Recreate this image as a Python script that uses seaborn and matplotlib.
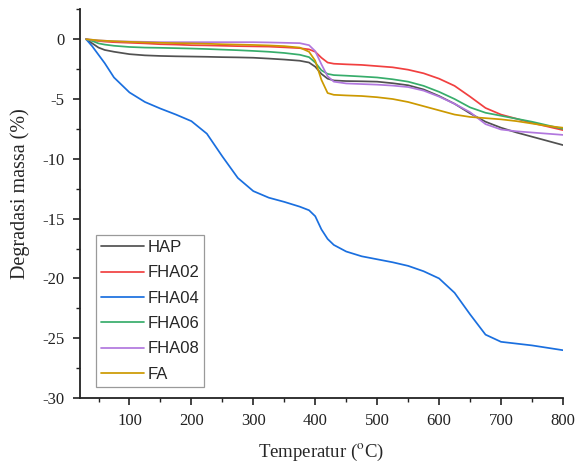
import matplotlib
matplotlib.use("Agg")
import matplotlib.pyplot as plt
import seaborn as sns
import pandas as pd
from matplotlib.ticker import MultipleLocator

# Temperature grid (°C) shared by all TGA curves
temperature = [30, 40, 50, 60, 75, 100, 125, 150, 175, 200, 225, 250, 275, 300,
               325, 350, 375, 390, 400, 410, 420, 430, 450, 475, 500, 525, 550,
               575, 600, 625, 650, 675, 700, 725, 750, 775, 800]

# Mass loss (%) of each sample
hap = [0, -0.35, -0.7, -0.9, -1.05, -1.25, -1.35, -1.4, -1.43, -1.45, -1.47, -1.5,
       -1.52, -1.55, -1.62, -1.7, -1.8, -1.95, -2.3, -2.9, -3.3, -3.45, -3.5, -3.52,
       -3.55, -3.68, -3.85, -4.2, -4.75, -5.4, -6.2, -6.9, -7.4, -7.8, -8.15, -8.5, -8.85]
fha02 = [0, -0.1, -0.15, -0.2, -0.25, -0.3, -0.35, -0.42, -0.45, -0.5, -0.52, -0.55,
         -0.58, -0.6, -0.62, -0.68, -0.75, -0.85, -1.05, -1.55, -1.95, -2.05, -2.1, -2.15,
         -2.25, -2.35, -2.55, -2.85, -3.3, -3.9, -4.8, -5.75, -6.3, -6.65, -7.0, -7.3, -7.6]
fha04 = [0, -0.6, -1.3, -2.0, -3.2, -4.45, -5.25, -5.8, -6.3, -6.85, -7.9, -9.8,
         -11.6, -12.7, -13.25, -13.6, -14.0, -14.3, -14.8, -15.9, -16.7, -17.2, -17.75,
         -18.15, -18.4, -18.65, -18.95, -19.4, -20.0, -21.2, -23.0, -24.7, -25.3, -25.45,
         -25.6, -25.8, -26.0]
fha06 = [0, -0.15, -0.35, -0.45, -0.55, -0.65, -0.7, -0.72, -0.75, -0.78, -0.82, -0.87,
         -0.92, -0.98, -1.05, -1.15, -1.3, -1.5, -1.95, -2.6, -2.9, -3.0, -3.05, -3.12,
         -3.2, -3.35, -3.55, -3.9, -4.4, -5.0, -5.7, -6.15, -6.4, -6.65, -6.9, -7.2, -7.5]
fha08 = [0, -0.05, -0.1, -0.13, -0.17, -0.2, -0.22, -0.25, -0.25, -0.25, -0.25, -0.25,
         -0.25, -0.25, -0.27, -0.3, -0.33, -0.5, -1.0, -2.1, -3.1, -3.55, -3.7, -3.75,
         -3.8, -3.88, -4.0, -4.3, -4.8, -5.4, -6.1, -7.1, -7.55, -7.7, -7.8, -7.9, -8.0]
fa = [0, -0.05, -0.1, -0.13, -0.17, -0.22, -0.27, -0.3, -0.33, -0.35, -0.38, -0.42,
      -0.45, -0.48, -0.52, -0.58, -0.7, -1.05, -1.8, -3.4, -4.5, -4.65, -4.7, -4.75,
      -4.85, -5.0, -5.25, -5.6, -5.95, -6.3, -6.5, -6.6, -6.7, -6.85, -7.05, -7.25, -7.4]

samples = ["HAP", "FHA02", "FHA04", "FHA06", "FHA08", "FA"]
series = [hap, fha02, fha04, fha06, fha08, fa]
colors = ["#515151", "#F14040", "#1A6FDF", "#37AD6B", "#B177DE", "#CC9900"]

frames = [pd.DataFrame({"T": temperature, "mass": vals, "Sampel": name})
          for name, vals in zip(samples, series)]
df = pd.concat(frames, ignore_index=True)

sns.set_style("ticks")
plt.rcParams["font.family"] = ["Liberation Serif", "DejaVu Serif"]
plt.rcParams["mathtext.fontset"] = "stix"
plt.rcParams["axes.unicode_minus"] = False

fig = plt.figure(figsize=(5.75, 4.65), dpi=100)
ax = fig.add_axes([0.139, 0.144, 0.840, 0.836])

sns.lineplot(data=df, x="T", y="mass", hue="Sampel", hue_order=samples,
             palette=dict(zip(samples, colors)), estimator=None, sort=False,
             linewidth=1.25, ax=ax)

ax.set_xlim(20, 800)
ax.set_ylim(-30, 2.5)
ax.xaxis.set_major_locator(MultipleLocator(100))
ax.xaxis.set_minor_locator(MultipleLocator(50))
ax.yaxis.set_major_locator(MultipleLocator(5))
ax.yaxis.set_minor_locator(MultipleLocator(2.5))
ax.set_xticks([100, 200, 300, 400, 500, 600, 700, 800])

for side in ["top", "right"]:
    ax.spines[side].set_visible(False)
for side in ["left", "bottom"]:
    ax.spines[side].set_linewidth(1.3)
    ax.spines[side].set_color("#222222")

ax.tick_params(which="major", direction="out", length=5, width=1.2,
               labelsize=12, colors="#222222", pad=6)
ax.tick_params(which="minor", direction="out", length=3, width=1.0, colors="#222222")

ax.set_xlabel(r"Temperatur ($^{\mathrm{o}}$C)", fontsize=13.5, labelpad=9)
ax.set_ylabel("Degradasi massa (%)", fontsize=14.5)
ax.yaxis.set_label_coords(-0.104, 0.526)

leg = ax.legend(loc="lower left", bbox_to_anchor=(0.033, 0.029), borderaxespad=0,
                frameon=True, fancybox=False, framealpha=1, edgecolor="#9a9a9a",
                prop={"family": "Liberation Sans", "size": 12},
                handlelength=2.6, handletextpad=0.2, labelspacing=0.62,
                borderpad=0.3, title=None)
leg.get_frame().set_linewidth(0.9)

fig.savefig("out.png", dpi=100)
